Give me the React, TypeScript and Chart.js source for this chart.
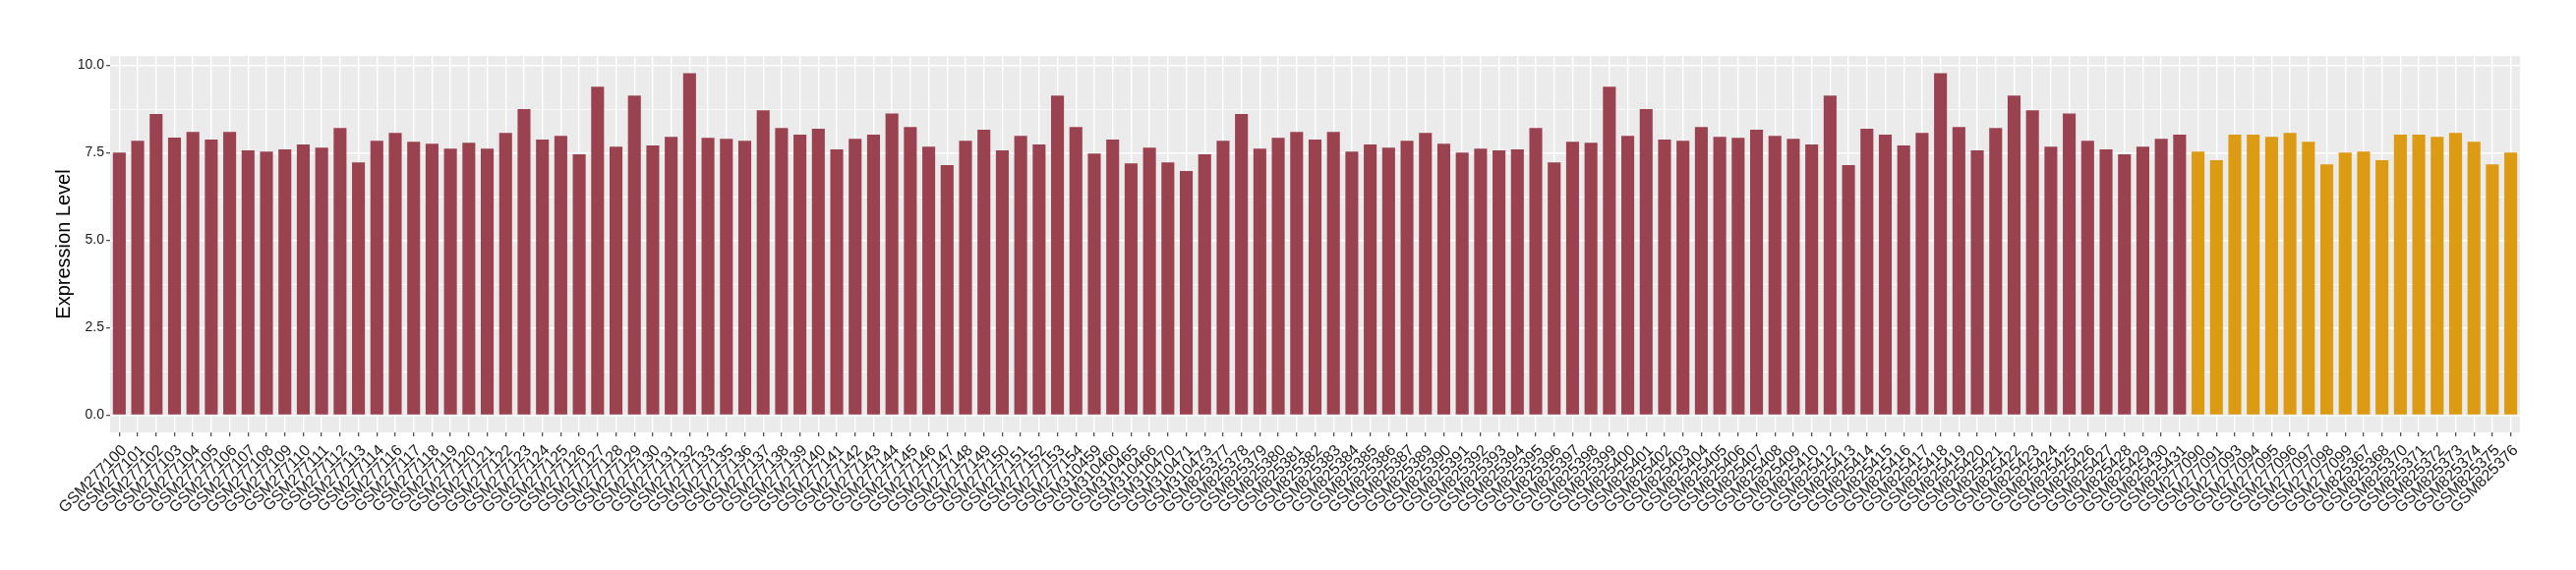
import { useEffect, useRef } from "react";
import { Chart, registerables } from "chart.js";

Chart.register(...registerables);

const groupALabels = [
  "GSM277100", "GSM277101", "GSM277102", "GSM277103", "GSM277104", "GSM277105", "GSM277106", "GSM277107",
  "GSM277108", "GSM277109", "GSM277110", "GSM277111", "GSM277112", "GSM277113", "GSM277114",
  "GSM277116", "GSM277117", "GSM277118", "GSM277119", "GSM277120", "GSM277121", "GSM277122", "GSM277123",
  "GSM277124", "GSM277125", "GSM277126", "GSM277127", "GSM277128", "GSM277129", "GSM277130", "GSM277131",
  "GSM277132", "GSM277133",
  "GSM277135", "GSM277136", "GSM277137", "GSM277138", "GSM277139", "GSM277140", "GSM277141", "GSM277142",
  "GSM277143", "GSM277144", "GSM277145", "GSM277146", "GSM277147", "GSM277148", "GSM277149", "GSM277150",
  "GSM277151", "GSM277152", "GSM277153", "GSM277154",
  "GSM310459", "GSM310460", "GSM310465", "GSM310466", "GSM310470", "GSM310471", "GSM310473",
  "GSM825377", "GSM825378", "GSM825379", "GSM825380", "GSM825381", "GSM825382", "GSM825383", "GSM825384",
  "GSM825385", "GSM825386", "GSM825387",
  "GSM825389", "GSM825390", "GSM825391", "GSM825392", "GSM825393", "GSM825394", "GSM825395", "GSM825396",
  "GSM825397", "GSM825398", "GSM825399", "GSM825400", "GSM825401", "GSM825402", "GSM825403", "GSM825404",
  "GSM825405", "GSM825406", "GSM825407", "GSM825408", "GSM825409", "GSM825410",
  "GSM825412", "GSM825413", "GSM825414", "GSM825415", "GSM825416", "GSM825417", "GSM825418", "GSM825419",
  "GSM825420", "GSM825421", "GSM825422", "GSM825423", "GSM825424", "GSM825425", "GSM825426", "GSM825427",
  "GSM825428", "GSM825429", "GSM825430", "GSM825431",
];

const groupAValues = [
  7.51, 7.85, 8.61, 7.94, 8.10, 7.88, 8.10, 7.57,
  7.54, 7.60, 7.74, 7.65, 8.21, 7.23, 7.85,
  8.07, 7.82, 7.76, 7.62, 7.79, 7.62, 8.07, 8.75,
  7.88, 7.99, 7.46, 9.39, 7.68, 9.14, 7.71, 7.96,
  9.78, 7.93,
  7.90, 7.85, 8.72, 8.21, 8.02, 8.19, 7.60, 7.90,
  8.02, 8.63, 8.24, 7.68, 7.15, 7.85, 8.16, 7.57,
  7.99, 7.74, 9.14, 8.24,
  7.48, 7.88, 7.20, 7.65, 7.23, 6.98, 7.46,
  7.85, 8.61, 7.62, 7.93, 8.10, 7.88, 8.10, 7.54,
  7.74, 7.65, 7.85,
  8.07, 7.76, 7.51, 7.62, 7.57, 7.60, 8.21, 7.23,
  7.82, 7.79, 9.39, 7.99, 8.75, 7.88, 7.85, 8.24,
  7.96, 7.93, 8.16, 7.99, 7.90, 7.74,
  9.14, 7.15, 8.19, 8.02, 7.71, 8.07, 9.78, 8.24,
  7.57, 8.21, 9.14, 8.72, 7.68, 8.63, 7.85, 7.60,
  7.46, 7.68, 7.90, 8.02,
];

const groupBLabels = [
  "GSM277090", "GSM277091", "GSM277093", "GSM277094", "GSM277095", "GSM277096", "GSM277097", "GSM277098",
  "GSM277099", "GSM825367", "GSM825368", "GSM825370", "GSM825371", "GSM825372", "GSM825373", "GSM825374",
  "GSM825375", "GSM825376",
];

const groupBValues = [
  7.54, 7.29, 8.02, 8.02, 7.96, 8.07, 7.82, 7.17,
  7.51, 7.54, 7.29, 8.02, 8.02, 7.96, 8.07, 7.82,
  7.17, 7.51,
];

const yTickValues = [0, 1.25, 2.5, 3.75, 5, 6.25, 7.5, 8.75, 10];
const yMajorTicks = [0, 2.5, 5, 7.5, 10];

const COLOR_A = "#9B4251";
const COLOR_B = "#DD9A13";
const FONT = '"Liberation Sans", Arial, Helvetica, sans-serif';

const panelBackground = {
  id: "panelBackground",
  beforeDraw(chart: any) {
    const { ctx, chartArea } = chart;
    if (!chartArea) return;
    ctx.save();
    ctx.fillStyle = "#EBEBEB";
    ctx.fillRect(chartArea.left, chartArea.top, chartArea.right - chartArea.left, chartArea.bottom - chartArea.top);
    ctx.restore();
  },
};

const isMajor = (v: number) => yMajorTicks.some((m) => Math.abs(m - v) < 1e-6);

export default function App() {
  const canvasRef = useRef<HTMLCanvasElement | null>(null);

  useEffect(() => {
    if (!canvasRef.current) return;
    const labels = [...groupALabels, ...groupBLabels];
    const values = [...groupAValues, ...groupBValues];
    const colors = [
      ...groupALabels.map(() => COLOR_A),
      ...groupBLabels.map(() => COLOR_B),
    ];

    const chart = new Chart(canvasRef.current, {
      type: "bar",
      data: {
        labels,
        datasets: [
          {
            data: values,
            backgroundColor: colors,
            borderWidth: 0,
            barPercentage: 0.7,
            categoryPercentage: 1.0,
          },
        ],
      },
      plugins: [panelBackground],
      options: {
        responsive: false,
        animation: false,
        events: [],
        layout: { padding: { left: 0, right: 57, top: 57, bottom: 0 } },
        plugins: {
          legend: { display: false },
          tooltip: { enabled: false },
        },
        scales: {
          x: {
            type: "category",
            offset: true,
            border: { display: false },
            grid: {
              offset: false,
              color: "#FFFFFF",
              lineWidth: 1.4,
              tickColor: "#333333",
              tickLength: 4,
              tickWidth: 1.1,
            },
            ticks: {
              autoSkip: false,
              minRotation: 45,
              maxRotation: 45,
              color: "#1A1A1A",
              padding: 5,
              labelOffset: 5,
              font: { family: FONT, size: 16 },
            },
            afterFit(scale: any) {
              scale.height = 140;
            },
          },
          y: {
            type: "linear",
            min: -0.49,
            max: 10.27,
            border: { display: false },
            afterBuildTicks(scale: any) {
              scale.ticks = yTickValues.map((v) => ({ value: v }));
            },
            grid: {
              color: "#FFFFFF",
              lineWidth: (ctx: any) => (ctx.tick && isMajor(ctx.tick.value) ? 1.4 : 0.7),
              tickColor: (ctx: any) => (ctx.tick && isMajor(ctx.tick.value) ? "#333333" : "rgba(0,0,0,0)"),
              tickLength: 4,
              tickWidth: 1.1,
            },
            ticks: {
              autoSkip: false,
              color: "#1A1A1A",
              padding: 2,
              font: { family: FONT, size: 14 },
              callback: (v: any) => (isMajor(Number(v)) ? Number(v).toFixed(1) : ""),
            },
            title: {
              display: true,
              text: "Expression Level",
              color: "#000000",
              font: { family: FONT, size: 20 },
              padding: { top: 53, bottom: 0 },
            },
            afterFit(scale: any) {
              scale.width = 112;
            },
          },
        },
      },
    });

    return () => chart.destroy();
  }, []);

  return (
    <div style={{ position: "fixed", left: 0, top: 0, width: 2620, height: 580, background: "#FFFFFF" }}>
      <canvas ref={canvasRef} width={2620} height={580} style={{ display: "block", width: 2620, height: 580 }} />
    </div>
  );
}
